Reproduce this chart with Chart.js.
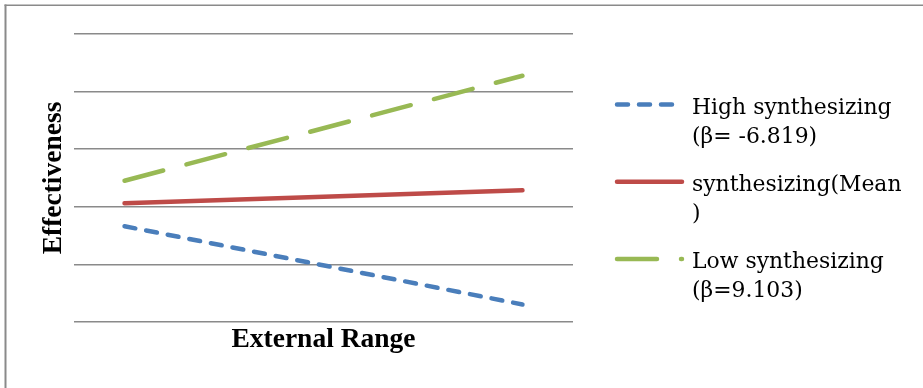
<!DOCTYPE html>
<html>
<head>
<meta charset="utf-8">
<script src="https://cdn.jsdelivr.net/npm/chart.js@4/dist/chart.umd.min.js"></script>
<style>
  html, body { margin: 0; padding: 0; background: #ffffff; }
  #wrap { position: relative; width: 923px; height: 388px; }
</style>
</head>
<body>
<div id="wrap"><canvas id="chart" width="923" height="388"></canvas></div>
<script>
// External range: low (0) and high (1)
const externalRange = [0, 1];

// Effectiveness at low / high external range for each level of synthesizing
const highSynthesizing = [1.663, 0.304];
const meanSynthesizing = [2.061, 2.286];
const lowSynthesizing  = [2.453, 4.276];

// Legend text, one entry per series, split into lines
const seriesNames = [
  ['High synthesizing', '(β= -6.819)'],
  ['synthesizing(Mean', ')'],
  ['Low synthesizing', '(β=9.103)']
];

const yTicks = [0, 1, 2, 3, 4, 5];

const xTitle = 'External Range';
const yTitle = 'Effectiveness';

const toPoints = vals => vals.map((v, i) => ({ x: externalRange[i], y: v }));

const titleFont = { family: 'Liberation Serif', size: 27.5, weight: 'bold', lineHeight: 1.2 };
const legendFont = '21.9px "DejaVu Serif"';

// Thin frame along the top and left edge of the figure
const framePlugin = {
  id: 'frame',
  beforeDraw(chart) {
    const ctx = chart.ctx;
    ctx.save();
    ctx.strokeStyle = '#8a8a8a';
    ctx.lineWidth = 1.5;
    ctx.beginPath();
    ctx.moveTo(4.5, 5.25);
    ctx.lineTo(chart.width, 5.25);
    ctx.stroke();
    ctx.lineWidth = 2;
    ctx.beginPath();
    ctx.moveTo(5.5, 4.5);
    ctx.lineTo(5.5, chart.height);
    ctx.stroke();
    ctx.restore();
  }
};

// Legend on the right: a line sample followed by wrapped label text
const sideLegendPlugin = {
  id: 'sideLegend',
  afterDraw(chart) {
    const ctx = chart.ctx;
    const sampleX0 = 617, sampleX1 = 682, textX = 692;
    const firstBaseline = 113.5, entryGap = 77.3, lineGap = 29.3;
    ctx.save();
    chart.data.datasets.forEach((ds, i) => {
      const base = firstBaseline + i * entryGap;
      const sy = base - 9;
      ctx.strokeStyle = ds.borderColor;
      ctx.lineWidth = ds.borderWidth;
      ctx.lineCap = 'round';
      ctx.setLineDash(ds.borderDash || []);
      ctx.beginPath();
      ctx.moveTo(sampleX0, sy);
      ctx.lineTo(sampleX1, sy);
      ctx.stroke();
      ctx.setLineDash([]);
      ctx.fillStyle = '#000000';
      ctx.font = legendFont;
      ctx.textBaseline = 'alphabetic';
      ctx.textAlign = 'left';
      seriesNames[i].forEach((line, j) => {
        ctx.fillText(line, textX, base + j * lineGap);
      });
    });
    ctx.restore();
  }
};

new Chart(document.getElementById('chart'), {
  type: 'line',
  data: {
    datasets: [
      {
        label: seriesNames[0].join(' '),
        data: toPoints(highSynthesizing),
        borderColor: '#4a7ebb',
        borderWidth: 4.5,
        borderDash: [11, 11],
        borderCapStyle: 'round',
        pointRadius: 0,
        tension: 0
      },
      {
        label: seriesNames[1].join(' '),
        data: toPoints(meanSynthesizing),
        borderColor: '#be4b48',
        borderWidth: 4.5,
        borderCapStyle: 'round',
        pointRadius: 0,
        tension: 0
      },
      {
        label: seriesNames[2].join(' '),
        data: toPoints(lowSynthesizing),
        borderColor: '#98b954',
        borderWidth: 4.5,
        borderDash: [40, 24],
        borderCapStyle: 'round',
        pointRadius: 0,
        tension: 0
      }
    ]
  },
  options: {
    responsive: false,
    animation: false,
    layout: { padding: { top: 34, right: 350, bottom: 0, left: 0 } },
    plugins: {
      legend: { display: false },
      tooltip: { enabled: false }
    },
    scales: {
      x: {
        type: 'linear',
        min: -0.127,
        max: 1.127,
        grid: { display: false },
        border: { display: false },
        ticks: { display: false },
        title: {
          display: true,
          text: xTitle,
          color: '#000000',
          font: titleFont,
          padding: { top: 0, bottom: 31.5 }
        },
        afterFit(scale) { scale.height = 66; }
      },
      y: {
        min: yTicks[0],
        max: yTicks[yTicks.length - 1],
        afterBuildTicks(scale) { scale.ticks = yTicks.map(v => ({ value: v })); },
        grid: { color: '#8a8a8a', lineWidth: 1.5, drawTicks: false },
        border: { display: false },
        ticks: { display: false },
        title: {
          display: true,
          text: yTitle,
          color: '#000000',
          font: titleFont,
          padding: { top: 37.4, bottom: 0 }
        },
        afterFit(scale) { scale.width = 74; }
      }
    }
  },
  plugins: [framePlugin, sideLegendPlugin]
});
</script>
</body>
</html>
